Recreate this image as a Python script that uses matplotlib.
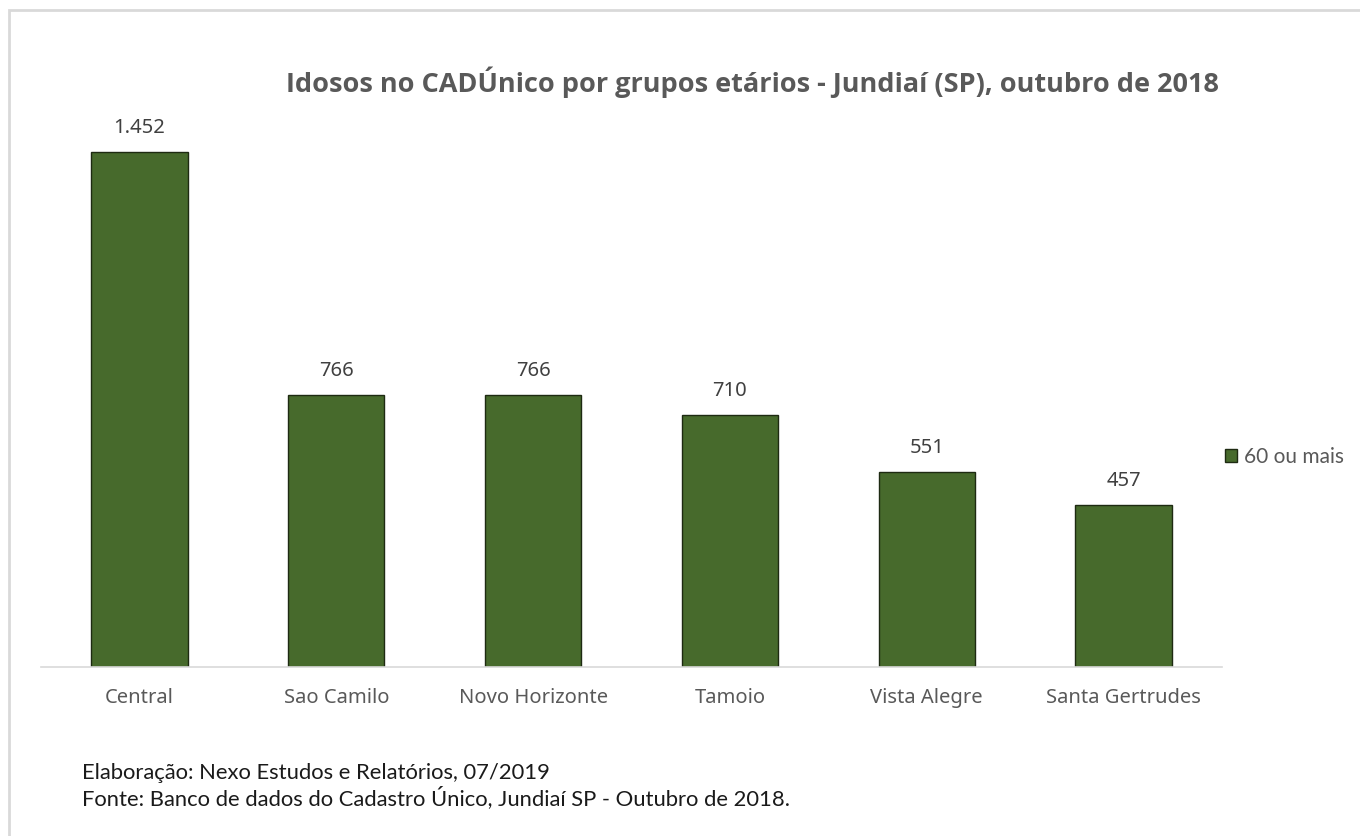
import matplotlib.pyplot as plt
from matplotlib.patches import Rectangle

bairros = ['Central', 'Sao Camilo', 'Novo Horizonte', 'Tamoio', 'Vista Alegre', 'Santa Gertrudes']
idosos = [1452, 766, 766, 710, 551, 457]
rotulos = ['1.452', '766', '766', '710', '551', '457']
serie = '60 ou mais'

W, H = 1360, 836
fig = plt.figure(figsize=(W / 100, H / 100), dpi=100)

# borda cinza da area do grafico
fig.patches.append(Rectangle((9 / W, -0.01), 1.02, 1 - 10 / H + 0.01, transform=fig.transFigure,
                             fill=False, edgecolor='#d9d9d9', linewidth=2))

left, right = 41 / W, 1222 / W
bottom = 1 - 667 / H
top = 1 - 110 / H
ax = fig.add_axes([left, bottom, right - left, top - bottom])

x = range(len(bairros))
bars = ax.bar(x, idosos, width=0.49, color='#476a2c', edgecolor='#1e2a12', linewidth=1.0, label=serie)
ax.set_xlim(-0.5, len(bairros) - 0.5)
ymax = 1452 * (667 - 110) / (667 - 152)
ax.set_ylim(0, ymax)

for b, t in zip(bars, rotulos):
    ax.annotate(t, (b.get_x() + b.get_width() / 2, b.get_height()), xytext=(0, 10),
                textcoords='offset points', ha='center', va='bottom',
                fontsize=14.5, color='#404040', family='Noto Sans')

ax.set_xticks(list(x))
ax.set_xticklabels(bairros, fontsize=14.5, color='#595959', family='Noto Sans')
ax.tick_params(axis='x', length=0, pad=15)
ax.set_yticks([])
for s in ['top', 'right', 'left']:
    ax.spines[s].set_visible(False)
ax.spines['bottom'].set_color('#d9d9d9')
ax.spines['bottom'].set_linewidth(1.2)

fig.text(752 / W, 1 - 82 / H, 'Idosos no CADÚnico por grupos etários - Jundiaí (SP), outubro de 2018',
         ha='center', va='center', fontsize=19.5, fontweight='bold', color='#595959', family='Open Sans')

leg = fig.legend(loc='center left', bbox_to_anchor=(1206 / W, 1 - 457 / H), frameon=False,
                 handlelength=0.6, handleheight=0.6, handletextpad=0.3,
                 prop={'family': 'Lato', 'size': 15})
for t in leg.get_texts():
    t.set_color('#595959')

fig.text(82 / W, 1 - 773 / H, 'Elaboração: Nexo Estudos e Relatórios, 07/2019',
         ha='left', va='center', fontsize=15.8, color='#1a1a1a', family='Lato')
fig.text(82 / W, 1 - 798 / H, 'Fonte: Banco de dados do Cadastro Único, Jundiaí SP - Outubro de 2018.',
         ha='left', va='center', fontsize=15.8, color='#1a1a1a', family='Lato')

fig.savefig('out.png', dpi=100)
